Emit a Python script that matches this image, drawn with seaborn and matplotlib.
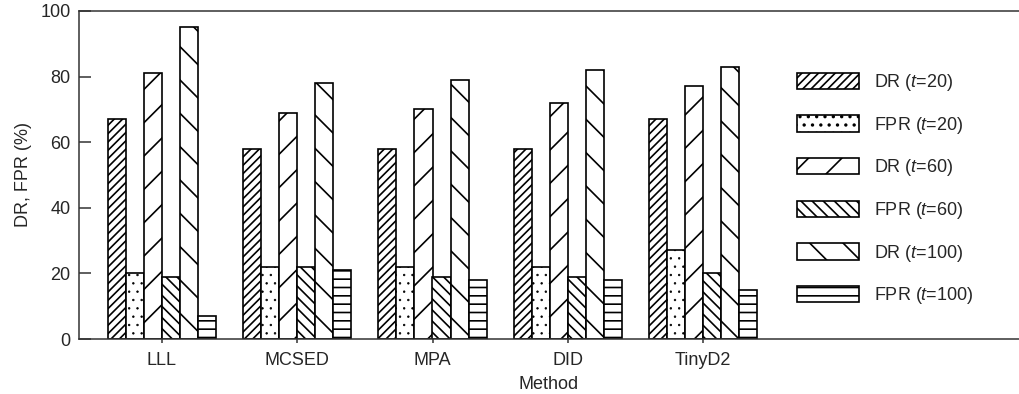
import matplotlib
matplotlib.use('Agg')
import matplotlib.pyplot as plt
import matplotlib.patches as mpatches
import seaborn as sns
import pandas as pd

methods = ['LLL', 'MCSED', 'MPA', 'DID', 'TinyD2']
series = ['DR ($t$=20)', 'FPR ($t$=20)', 'DR ($t$=60)', 'FPR ($t$=60)', 'DR ($t$=100)', 'FPR ($t$=100)']
dr_20 = [67, 58, 58, 58, 67]
fpr_20 = [20, 22, 22, 22, 27]
dr_60 = [81, 69, 70, 72, 77]
fpr_60 = [19, 22, 19, 19, 20]
dr_100 = [95, 78, 79, 82, 83]
fpr_100 = [7, 21, 18, 18, 15]
hatches = ['////', '..', '/', '\\\\\\', '\\', '--']

sns.set_style('ticks')
plt.rcParams['font.family'] = ['Liberation Sans', 'DejaVu Sans']
plt.rcParams['mathtext.fontset'] = 'custom'
plt.rcParams['mathtext.rm'] = 'Liberation Sans'
plt.rcParams['mathtext.it'] = 'Liberation Sans:italic'
plt.rcParams['hatch.linewidth'] = 1.2


def thin_dots(patch, h):
    # the dotted pattern looks lighter in the original
    if h == '..' and hasattr(patch, 'set_hatch_linewidth'):
        patch.set_hatch_linewidth(0.5)


values = [dr_20, fpr_20, dr_60, fpr_60, dr_100, fpr_100]
rows = []
for s, vals in zip(series, values):
    for m, v in zip(methods, vals):
        rows.append({'Method': m, 'Series': s, 'Value': v})
df = pd.DataFrame(rows)

fig = plt.figure(figsize=(10.19, 3.94), dpi=100)
ax = fig.add_axes([79 / 1019, 55 / 394, 940 / 1019, 328 / 394])

sns.barplot(data=df, x='Method', y='Value', hue='Series', order=methods, hue_order=series,
            palette={s: 'white' for s in series}, edgecolor='black', linewidth=1.2,
            width=0.8, legend=False, ax=ax)

for cont, h in zip(ax.containers, hatches):
    for bar in cont:
        bar.set_hatch(h)
        thin_dots(bar, h)

spacing = 135.25
ax.set_xlim(-(162 - 79) / spacing, (1019 - 162) / spacing)
ax.set_ylim(0, 100)
ax.set_yticks([0, 20, 40, 60, 80, 100])

for side in ['left', 'bottom', 'top']:
    ax.spines[side].set_color('#333333')
    ax.spines[side].set_linewidth(1.1)
ax.spines['right'].set_visible(False)

ax.tick_params(axis='y', direction='in', length=8.5, width=1.1, color='#333333',
               labelsize=13, pad=6)
ax.tick_params(axis='x', direction='out', length=3, width=1.1, color='#333333',
               labelsize=13, pad=6.5)
ax.set_xlabel('Method', fontsize=13, labelpad=5)
ax.set_ylabel('DR, FPR (%)', fontsize=13, labelpad=6)

handles = []
for s, h in zip(series, hatches):
    p = mpatches.Patch(facecolor='white', edgecolor='black', linewidth=1.2, hatch=h, label=s)
    thin_dots(p, h)
    handles.append(p)
ax.legend(handles=handles, loc='upper left', bbox_to_anchor=(797 / 1019, 1 - 72 / 394),
          bbox_transform=fig.transFigure, frameon=False, fontsize=13,
          handlelength=3.45, handleheight=1.0, handletextpad=0.8,
          labelspacing=1.2, borderpad=0, borderaxespad=0)

fig.savefig('out.png', dpi=100)
